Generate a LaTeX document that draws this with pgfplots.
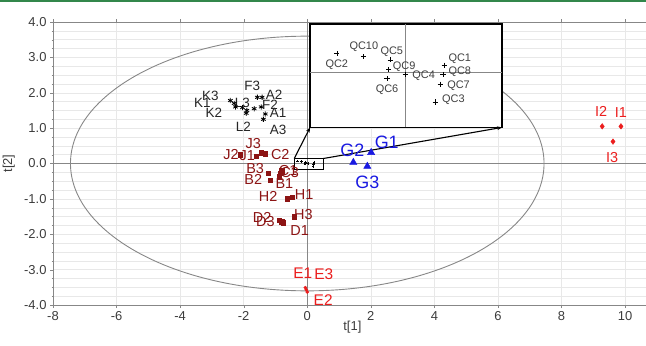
\documentclass[border=0pt]{standalone}
\usepackage{pgfplots}
\pgfplotsset{compat=1.18}
\usepackage{fontspec}
\setmainfont{Liberation Sans}
\usetikzlibrary{arrows.meta}
\definecolor{darkred}{RGB}{140,20,20}
\definecolor{bluept}{RGB}{25,25,225}
\definecolor{redpt}{RGB}{235,30,30}
\definecolor{axgray}{RGB}{135,135,135}
\definecolor{gridc}{RGB}{232,232,232}
\definecolor{tickc}{RGB}{60,60,60}
\definecolor{topgreen}{RGB}{50,135,75}
\begin{document}
\begin{tikzpicture}
\begin{axis}[
  scale only axis, width=597.5bp, height=283bp,
  xmin=-8, xmax=10.8, ymin=-4, ymax=4,
  xtick={-8,-6,...,10}, ytick={-4,-3,...,4},
  minor y tick num=3, minor x tick num=0,
  tick align=outside, major tick length=3bp, minor tick length=1.5bp,
  tick style={axgray},
  axis line style={axgray, line width=0.9bp},
  grid=both, major grid style={gridc, line width=0.5bp}, minor grid style={gridc, line width=0.4bp},
  /pgf/number format/assume math mode=true,
  yticklabel style={/pgf/number format/.cd, fixed, fixed zerofill, precision=1},
  ticklabel style={font=\fontsize{13}{13}\selectfont, text=tickc},
  xlabel={t[1]}, ylabel={t[2]},
  label style={font=\fontsize{13}{13}\selectfont, text=tickc},
  xlabel style={at={(axis description cs:0.501,-0.078)}, anchor=center},
  ylabel style={at={(axis description cs:-0.074,0.5)}, anchor=center},
  clip=false,
]
% Hotelling ellipse and zero lines
\draw[axgray, line width=0.9bp] (axis cs:0,0) ellipse [x radius=7.45, y radius=3.6];
\draw[axgray, line width=0.9bp] (axis cs:0,-4) -- (axis cs:0,4);
\draw[axgray, line width=0.9bp] (axis cs:-8,0) -- (axis cs:10.8,0);

% small QC cluster at origin
\addplot[only marks, mark=+, mark size=1.2bp, black] coordinates {
(-0.31,0.07) (-0.18,0.06) (-0.05,0.05) (-0.06,0.02) (-0.07,-0.01)
(0.03,0.005) (0.22,0.035) (0.21,0.005) (0.20,-0.03) (0.18,-0.086)};
\draw[black, line width=0.8bp] (axis cs:-0.41,-0.16) rectangle (axis cs:0.5,0.14);

% inset
\draw[black, line width=1.3bp, fill=white] (axis cs:0.09,1.02) rectangle (axis cs:6.13,3.94);
\draw[axgray, line width=0.7bp] (axis cs:3.08,1.02) -- (axis cs:3.08,3.94);
\draw[axgray, line width=0.7bp] (axis cs:0.09,2.58) -- (axis cs:6.13,2.58);
\addplot[only marks, mark=+, mark size=2.6bp, black, mark options={line width=0.6bp}] coordinates {
(0.93,3.11) (1.77,3.02) (2.61,2.93) (2.56,2.66) (2.51,2.40)
(3.08,2.52) (4.31,2.78) (4.27,2.52) (4.18,2.24) (4.03,1.74)};
\draw[black, line width=1.1bp, -{Stealth[length=5bp]}] (axis cs:-0.41,0.14) -- (axis cs:0.09,1.02);
\draw[black, line width=1.1bp, -{Stealth[length=5bp]}] (axis cs:0.5,0.14) -- (axis cs:6.13,1.02);

\begin{scope}[every node/.style={font=\fontsize{11}{11}\selectfont, text=black!75, inner sep=0pt}]
\node at (axis cs:0.93,2.80) {QC2};
\node at (axis cs:1.78,3.29) {QC10};
\node at (axis cs:2.66,3.17) {QC5};
\node at (axis cs:3.05,2.75) {QC9};
\node at (axis cs:2.51,2.10) {QC6};
\node at (axis cs:3.66,2.47) {QC4};
\node at (axis cs:4.80,2.95) {QC1};
\node at (axis cs:4.80,2.59) {QC8};
\node at (axis cs:4.76,2.19) {QC7};
\node at (axis cs:4.60,1.81) {QC3};
\end{scope}

% K, L, F, A (black asterisks)
\addplot[only marks, mark=asterisk, mark size=2.6bp, black, mark options={line width=0.8bp}] coordinates {
(-2.42,1.78) (-2.30,1.70) (-2.26,1.60) (-2.04,1.58) (-1.90,1.50) (-1.92,1.42)
(-1.57,1.87) (-1.67,1.55) (-1.45,1.60) (-1.42,1.87) (-1.32,1.40) (-1.38,1.25)};
\begin{scope}[every node/.style={font=\fontsize{13.5}{13.5}\selectfont, text=black!85, inner sep=0pt}]
\node at (axis cs:-3.30,1.70) {K1};
\node at (axis cs:-3.05,1.92) {K3};
\node at (axis cs:-2.94,1.42) {K2};
\node at (axis cs:-1.73,2.20) {F3};
\node at (axis cs:-1.04,1.95) {A2};
\node at (axis cs:-2.04,1.70) {L3};
\node at (axis cs:-1.17,1.67) {F2};
\node at (axis cs:-0.92,1.42) {A1};
\node at (axis cs:-2.01,1.04) {L2};
\node at (axis cs:-0.92,0.96) {A3};
\end{scope}

% J, C, B, H, D (dark red squares)
\addplot[only marks, mark=square*, mark size=2.2bp, darkred] coordinates {
(-2.11,0.25) (-1.60,0.20) (-1.45,0.31) (-1.32,0.28)
(-1.23,-0.28) (-1.16,-0.48) (-0.80,-0.20) (-0.85,-0.28) (-0.88,-0.37)
(-0.63,-0.99) (-0.47,-0.96) (-0.41,-1.50)
(-0.88,-1.61) (-0.80,-1.64) (-0.75,-1.67)};
\begin{scope}[every node/.style={font=\fontsize{14.5}{14.5}\selectfont, text=darkred, inner sep=0pt}]
\node at (axis cs:-2.40,0.25) {J2};
\node at (axis cs:-1.89,0.23) {J1};
\node at (axis cs:-1.70,0.56) {J3};
\node at (axis cs:-0.85,0.25) {C2};
\node at (axis cs:-1.64,-0.15) {B3};
\node at (axis cs:-1.70,-0.45) {B2};
\node at (axis cs:-0.60,-0.20) {C1};
\node at (axis cs:-0.55,-0.26) {C3};
\node at (axis cs:-0.72,-0.56) {B1};
\node at (axis cs:-1.23,-0.93) {H2};
\node at (axis cs:-0.10,-0.88) {H1};
\node at (axis cs:-0.12,-1.44) {H3};
\node at (axis cs:-1.42,-1.53) {D2};
\node at (axis cs:-1.32,-1.64) {D3};
\node at (axis cs:-0.24,-1.89) {D1};
\end{scope}

% G (blue triangles)
\addplot[only marks, mark=triangle*, mark size=4.2bp, bluept] coordinates {
(2.01,0.31) (1.45,0.03) (1.89,-0.08)};
\begin{scope}[every node/.style={font=\fontsize{18}{18}\selectfont, text=bluept, inner sep=0pt}]
\node at (axis cs:1.42,0.36) {G2};
\node at (axis cs:2.50,0.60) {G1};
\node at (axis cs:1.89,-0.53) {G3};
\end{scope}

% I (red diamonds)
\addplot[only marks, mark=diamond*, mark size=2.8bp, redpt] coordinates {
(9.28,1.05) (9.87,1.05) (9.62,0.62)};
% E (red)
\addplot[only marks, mark=*, mark size=1.6bp, redpt] coordinates {
(-0.06,-3.51) (-0.03,-3.57) (0.0,-3.63)};
\begin{scope}[every node/.style={font=\fontsize{14.5}{14.5}\selectfont, text=redpt, inner sep=0pt}]
\node at (axis cs:9.25,1.47) {I2};
\node at (axis cs:9.87,1.44) {I1};
\node at (axis cs:9.59,0.17) {I3};
\end{scope}
\begin{scope}[every node/.style={font=\fontsize{15.5}{15.5}\selectfont, text=redpt, inner sep=0pt}]
\node at (axis cs:-0.14,-3.09) {E1};
\node at (axis cs:0.52,-3.14) {E3};
\node at (axis cs:0.50,-3.85) {E2};
\end{scope}
\end{axis}
\pgfresetboundingbox
\path (-53bp,-41bp) rectangle (593bp,305bp);
\fill[topgreen] (-53bp,303.3bp) rectangle (593bp,305bp);
\end{tikzpicture}
\end{document}
